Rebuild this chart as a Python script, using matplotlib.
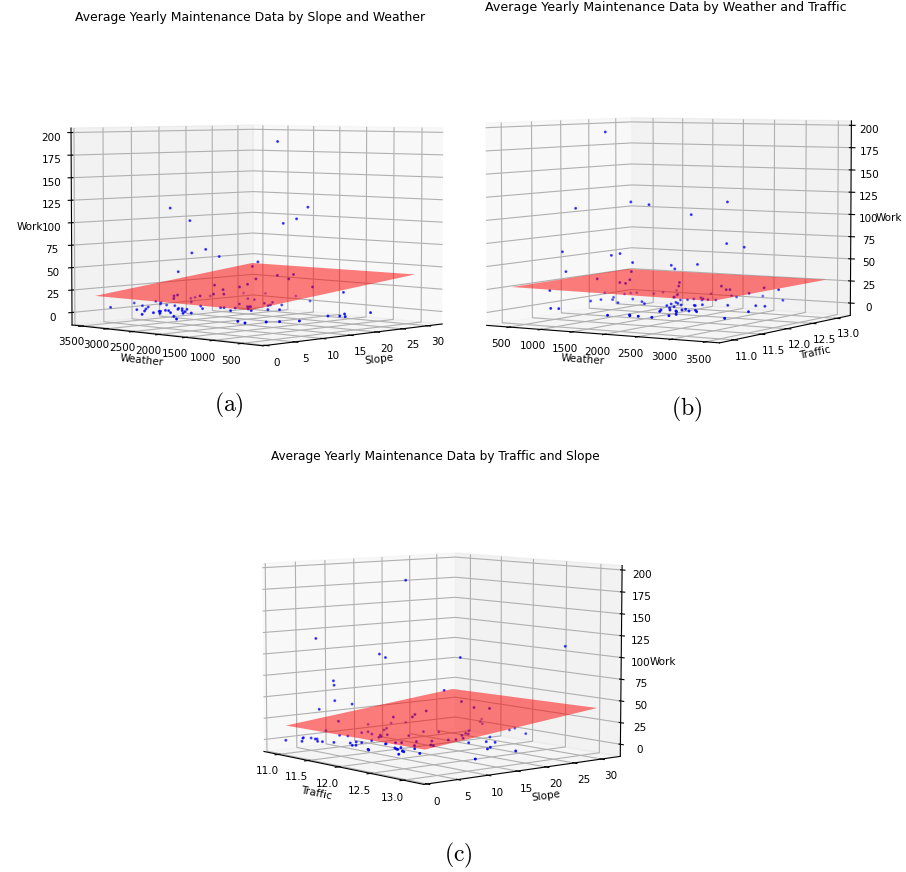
import numpy as np
import matplotlib
matplotlib.use("Agg")
import matplotlib.pyplot as plt

plt.rcParams["mathtext.fontset"] = "cm"

slope_ticks = [0, 5, 10, 15, 20, 25, 30]
weather_ticks = [500, 1000, 1500, 2000, 2500, 3000, 3500]
traffic_ticks = [11.0, 11.5, 12.0, 12.5, 13.0]
work_ticks = [0, 25, 50, 75, 100, 125, 150, 175, 200]

# (a) slope / weather
a_slope = [18.0, 8.6, 10.3, 20.7, 19.7, 18.5, 10.5,
           11.7, 12.9, 16.3, 9.3, 15.8, 18.0, 19.4,
           19.0, 16.1, 12.5, 14.7, 15.4, 21.1, 30.6,
           32.3, 32.3, 13.2, 13.3, 12.4, 24.3, 11.2,
           21.5, 20.1, 16.5, 9.2, 8.9, 8.9, 25.0,
           24.6, 23.5, 21.8, 20.7, 19.8, 18.9, 17.2,
           17.0, 17.3, 23.8, 28.3, 21.7, 17.0, 16.0,
           13.6, 14.9, 14.7, 11.8, 14.0, 13.7, 22.1,
           18.6, 16.2, 16.3, 15.3, 8.5, 6.3, 4.9,
           2.3, 3.1, 13.9, 13.1, 11.8, 10.4, 8.6,
           7.9, 4.3, 4.5, 5.9, 4.0, 0.9, 3.3,
           5.0, 5.1, 3.3, 6.4, 11.4, 6.4, 4.8,
           11.5, 9.4, 8.4, 9.4, 7.6, 9.2, 6.9,
           5.3, 6.3, 1.9, -0.1, 13.5, 11.2]
a_weather = [1717, 2778, 2581, 1421, 1532, 1660, 2565,
             2427, 2295, 1913, 2700, 1966, 1719, 1558,
             1607, 1930, 2342, 2095, 2016, 1373, 3649,
             3378, 2774, 2253, 2249, 2352, 3672, 2483,
             3683, 3619, 3221, 2704, 2740, 2744, 2990,
             2820, 2359, 2344, 2118, 2073, 2530, 2165,
             2182, 2152, 1064, 2112, 2004, 1579, 1696,
             1763, 1953, 2178, 1965, 2319, 2353, 423,
             558, 322, 427, 541, 387, 518, 614,
             725, 935, 3654, 3460, 3327, 3699, 3331,
             3138, 3481, 2981, 2959, 2773, 2473, 2523,
             2601, 2585, 2398, 2633, 3159, 2571, 2359,
             3008, 2706, 2611, 2637, 2441, 2522, 2315,
             2176, 2127, 1981, 1712, 2717, 2436]
a_work = [190, 116, 102, 117, 104, 99, 66,
          70, 62, 56, 45, 51, 41, 42,
          37, 37, 30, 28, 31, 28, 4,
          4, 4, 25, 20, 20, 4, 18,
          4, 4, 4, 19, 18, 15, 4,
          4, 4, 4, 4, 4, 4, 4,
          4, 4, 22, 4, 4, 4, 4,
          4, 4, 4, 4, 4, 4, 4,
          4, 4, 4, 4, 4, 4, 4,
          4, 4, 4, 4, 4, 4, 4,
          4, 4, 4, 4, 4, 4, 4,
          4, 4, 4, 4, 4, 4, 4,
          4, 4, 4, 4, 4, 4, 4,
          4, 4, 4, 4, 4, 4]

# (b) weather / traffic
b_weather = [1151, 809, 1440, 1650, 2553, 2136, 2542,
             2742, 658, 1217, 1320, 1458, 1907, 1945,
             2209, 695, 1447, 1052, 1316, 1381, 1431,
             2002, 1991, 1007, 1350, 1310, 2486, 2536,
             2578, 1663, 2045, 2973, 2804, 311, 645,
             651, 698, 973, 988, 1459, 1821, 1917,
             2035, 2151, 1474, 507, 3142, 2445, 2199,
             2956, 759, 780, 760, 916, 1194, 1112,
             1403, 1567, 821, 931, 1913, 2134, 2182,
             2311, 2525, 2610, 2607, 2451, 2407, 2403,
             2548, 2252, 2284, 2581, 2674, 2304, 1990,
             1800, 1825, 1737, 1844, 1933, 2081, 1897,
             2105, 2138, 1957, 2168, 2244, 2273, 2399,
             2633, 2978, 3118, 3255, 3374]
b_traffic = [11.69, 11.54, 11.82, 11.91, 12.30, 12.12, 12.30,
             12.39, 11.47, 11.72, 11.76, 11.83, 12.02, 12.04,
             12.15, 11.49, 11.82, 11.65, 11.76, 11.79, 11.81,
             12.06, 12.06, 13.17, 12.78, 12.84, 12.27, 12.30,
             12.32, 13.07, 13.01, 12.49, 12.41, 12.59, 12.59,
             12.70, 12.76, 12.77, 12.93, 12.60, 12.68, 12.61,
             12.56, 12.57, 12.57, 11.41, 12.56, 13.14, 12.92,
             12.89, 11.85, 12.01, 12.26, 12.07, 11.86, 12.22,
             12.06, 11.92, 11.10, 11.12, 10.89, 11.02, 10.97,
             10.97, 10.96, 11.16, 11.29, 11.48, 11.63, 11.70,
             11.59, 12.04, 12.02, 11.67, 11.58, 12.13, 12.50,
             12.45, 12.54, 12.39, 12.18, 12.11, 12.00, 12.03,
             11.84, 11.72, 11.88, 11.53, 11.42, 11.57, 11.53,
             12.21, 12.32, 12.32, 11.83, 11.24]
b_work = [194, 110, 117, 114, 117, 103, 71,
          67, 62, 58, 60, 50, 47, 43,
          48, 40, 40, 32, 28, 27, 31,
          28, 24, 4, 4, 4, 24, 20,
          20, 4, 4, 22, 16, 4, 4,
          4, 4, 4, 4, 4, 4, 4,
          4, 4, 4, 19, 20, 4, 4,
          4, 4, 4, 4, 4, 4, 4,
          4, 4, 4, 4, 4, 4, 4,
          4, 4, 4, 4, 4, 4, 4,
          4, 4, 4, 4, 4, 4, 4,
          4, 4, 4, 4, 4, 4, 4,
          4, 4, 4, 4, 4, 4, 4,
          4, 4, 4, 4, 4]

# (c) traffic / slope
c_traffic = [11.80, 11.22, 11.63, 11.67, 12.15, 12.83, 11.33,
             11.34, 11.34, 12.05, 11.24, 11.45, 12.16, 12.24,
             12.34, 11.93, 11.86, 11.84, 11.72, 10.85, 10.91,
             11.36, 10.85, 10.77, 11.19, 11.20, 11.34, 11.12,
             11.20, 11.48, 11.45, 11.54, 11.56, 11.24, 11.38,
             11.51, 11.80, 11.97, 11.92, 12.00, 11.67, 11.55,
             11.67, 12.16, 12.18, 12.15, 12.10, 12.29, 12.34,
             12.03, 12.22, 11.99, 11.95, 11.94, 11.69, 11.98,
             12.03, 12.33, 12.27, 12.57, 12.48, 12.42, 12.78,
             12.84, 13.11, 13.23, 11.12, 11.12, 11.09, 11.28,
             11.16, 11.24, 11.25, 11.38, 11.43, 11.54, 11.20,
             11.29, 11.68, 11.81, 11.66, 11.83, 11.73, 12.11,
             12.15, 11.95, 12.21, 12.27, 12.30, 12.23, 12.41,
             12.45, 12.37, 12.54, 12.63]
c_slope = [12.9, 3.7, 10.2, 10.8, 18.5, 29.2, 5.5,
           5.5, 5.6, 16.8, 4.0, 7.4, 18.6, 19.9,
           21.5, 15.0, 13.8, 13.6, 11.6, 20.5, 22.5,
           6.0, 9.0, 17.2, 12.8, 11.6, 11.9, 16.8,
           15.5, 13.1, 12.2, 11.4, 10.8, 32.9, 31.0,
           29.9, 24.1, 22.0, 22.1, 20.5, 20.1, 18.7,
           14.8, 18.9, 17.4, 16.4, 14.1, 11.8, 11.7,
           12.2, 9.8, 10.1, 9.5, 8.0, 8.2, 30.4,
           28.8, 28.2, 22.4, 19.8, 19.3, 16.9, 16.5,
           15.3, 17.0, 8.7, -0.4, 2.4, 2.8, 0.7,
           3.4, 3.3, 3.5, 2.3, 2.6, 3.4, 7.8,
           8.3, 4.7, 3.7, 5.9, 4.1, 6.1, 3.2,
           2.9, 7.8, 6.6, 6.2, 6.1, 7.4, 5.7,
           5.5, 8.2, 3.7, 6.2]
c_work = [187, 120, 102, 98, 98, 111, 71,
          66, 48, 60, 38, 44, 47, 40,
          39, 36, 32, 29, 29, 4, 4,
          24, 4, 4, 4, 4, 4, 4,
          4, 4, 4, 4, 4, 4, 4,
          4, 4, 4, 4, 4, 4, 4,
          4, 4, 4, 4, 4, 4, 4,
          4, 4, 4, 4, 4, 4, 4,
          4, 4, 4, 4, 4, 4, 4,
          4, 4, 4, 4, 4, 4, 4,
          4, 4, 4, 4, 4, 4, 4,
          4, 4, 4, 4, 4, 4, 4,
          4, 4, 4, 4, 4, 4, 4,
          4, 4, 4, 4]

# fitted plane, four corners per panel
a_plane_x = [[15.59, 30.10], [1.95, 30.46]]
a_plane_y = [[1989.28, 359.62], [3521.01, 3463.32]]
a_plane_z = [[2, 42], [18, 41]]
b_plane_x = [[148.05, 3285.93], [1270.97, 3685.59]]
b_plane_y = [[11.14, 11.12], [11.96, 12.80]]
b_plane_z = [[24, 23], [41, 31]]
c_plane_x = [[11.02, 11.92], [11.03, 13.29]]
c_plane_y = [[0.58, 14.87], [29.84, 29.25]]
c_plane_z = [[19, -9], [41, 45]]

W, H = 906, 872
fig = plt.figure(figsize=(W / 100, H / 100), dpi=100)


def panel(cx, cy, side, elev, azim, xs, ys, zs, px, py, pz, xt, yt, xl, yl, xlim, ylim):
    ax = fig.add_axes(
        [(cx - side / 2) / W, 1 - (cy + side / 2) / H, side / W, side / H],
        projection="3d",
        computed_zorder=False,
    )
    ax.set_facecolor("none")
    ax.scatter(xs, ys, zs, c="blue", s=1.2)
    ax.plot_surface(np.array(px), np.array(py), np.array(pz), color="red", alpha=0.5, shade=False)
    ax.set_xlim(xlim)
    ax.set_ylim(ylim)
    ax.set_zlim(-14, 205)
    ax.set_xticks(xt)
    ax.set_yticks(yt)
    ax.set_zticks(work_ticks)
    ax.set_xlabel(xl, fontsize=7.5, labelpad=-4)
    ax.set_ylabel(yl, fontsize=7.5, labelpad=-4)
    ax.set_zlabel("Work", fontsize=7.5, labelpad=-4)
    ax.tick_params(labelsize=7.5, pad=0)
    ax.view_init(elev=elev, azim=azim)
    return ax


panel(252, 232, 408, 3.5, -136.5, a_slope, a_weather, a_work, a_plane_x, a_plane_y, a_plane_z,
      slope_ticks, weather_ticks, "Slope", "Weather", (-0.5, 33), (130, 3700))
panel(666.5, 227, 412, 4, -58.5, b_weather, b_traffic, b_work, b_plane_x, b_plane_y, b_plane_z,
      weather_ticks, traffic_ticks, "Weather", "Traffic", (130, 3700), (10.75, 13.3))
panel(435.5, 665, 395, 6.5, -40, c_traffic, c_slope, c_work, c_plane_x, c_plane_y, c_plane_z,
      traffic_ticks, slope_ticks, "Traffic", "Slope", (10.75, 13.3), (-0.5, 33.5))

fig.text(250 / W, 1 - 17 / H, "Average Yearly Maintenance Data by Slope and Weather", ha="center", va="center", fontsize=8.9)
fig.text(666 / W, 1 - 8 / H, "Average Yearly Maintenance Data by Weather and Traffic", ha="center", va="center", fontsize=9.05)
fig.text(435 / W, 1 - 456 / H, "Average Yearly Maintenance Data by Traffic and Slope", ha="center", va="center", fontsize=8.75)
fig.text(229 / W, 1 - 405 / H, r"$\mathrm{(a)}$", ha="center", va="center", fontsize=17)
fig.text(687 / W, 1 - 409 / H, r"$\mathrm{(b)}$", ha="center", va="center", fontsize=17)
fig.text(458 / W, 1 - 855 / H, r"$\mathrm{(c)}$", ha="center", va="center", fontsize=17)

fig.savefig("out.png", dpi=100)
